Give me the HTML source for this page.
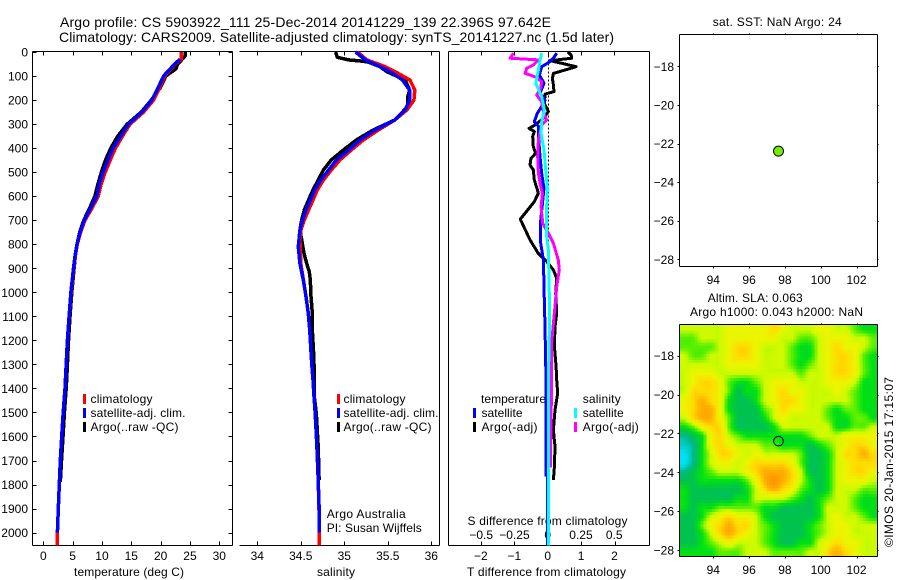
<!DOCTYPE html>
<html>
<head>
<meta charset="utf-8">
<title>Argo profile</title>
<style>
html,body{margin:0;padding:0;background:#fff;}
svg{display:block;}
text{font-family:"Liberation Sans",sans-serif;font-size:12px;fill:#000;}
.ax{stroke:#000;stroke-width:1;fill:none;shape-rendering:crispEdges;}
.ln{fill:none;shape-rendering:crispEdges;stroke-linejoin:round;}
</style>
</head>
<body>
<svg id="fig" width="900" height="580" viewBox="0 0 900 580" xmlns="http://www.w3.org/2000/svg">
<rect width="900" height="580" fill="#fff"/>
<text x="60" y="27" style="font-size:14px" textLength="491">Argo profile: CS 5903922_111 25-Dec-2014 20141229_139 22.396S 97.642E</text>
<text x="59" y="42" style="font-size:14px" textLength="555">Climatology: CARS2009. Satellite-adjusted climatology: synTS_20141227.nc (1.5d later)</text>

<g>
<rect x="83" y="394" width="3" height="10" fill="#f00"/>
<rect x="83" y="408" width="3" height="10" fill="#00f"/>
<rect x="83" y="422" width="3" height="10" fill="#000"/>
<text x="90.5" y="403" textLength="62">climatology</text>
<text x="90.5" y="417" textLength="95">satellite-adj. clim.</text>
<text x="90.5" y="431" textLength="88">Argo(..raw -QC)</text>
</g>
<g>
<rect x="337" y="394" width="3" height="10" fill="#f00"/>
<rect x="337" y="408" width="3" height="10" fill="#00f"/>
<rect x="337" y="422" width="3" height="10" fill="#000"/>
<text x="343.5" y="403" textLength="62">climatology</text>
<text x="343.5" y="417" textLength="95">satellite-adj. clim.</text>
<text x="343.5" y="431" textLength="88">Argo(..raw -QC)</text>
</g>
<g>
<text x="481" y="403" textLength="65">temperature</text>
<text x="582.7" y="403" textLength="38">salinity</text>
<rect x="473" y="408" width="3" height="10" fill="#00f"/>
<rect x="473" y="422" width="3" height="10" fill="#000"/>
<rect x="574" y="408" width="3" height="10" fill="#0ff"/>
<rect x="574" y="422" width="3" height="10" fill="#f0f"/>
<text x="481.5" y="417" textLength="41">satellite</text>
<text x="481.5" y="431" textLength="56">Argo(-adj)</text>
<text x="582.7" y="417" textLength="41">satellite</text>
<text x="582.7" y="431" textLength="56">Argo(-adj)</text>
</g>

<text x="326.7" y="518" textLength="79">Argo Australia</text>
<text x="326.7" y="532" textLength="95">PI: Susan Wijffels</text>
<text x="74" y="576" textLength="110">temperature (deg C)</text>
<text x="317" y="576" textLength="38">salinity</text>
<text x="467.5" y="525" textLength="160">S difference from climatology</text>
<text x="467" y="576" textLength="159">T difference from climatology</text>
<text x="712.7" y="26" textLength="129">sat. SST: NaN Argo: 24</text>
<text x="707.7" y="302" textLength="95">Altim. SLA: 0.063</text>
<text x="690" y="316" textLength="173">Argo h1000: 0.043 h2000: NaN</text>
<text transform="translate(893,547) rotate(-90)" textLength="170">©IMOS 20-Jan-2015 17:15:07</text>
</svg>

<script>
// ---- axis tick labels ----
var depthTicks = [0,100,200,300,400,500,600,700,800,900,1000,1100,1200,1300,1400,1500,1600,1700,1800,1900,2000];
var tempTicks = [0,5,10,15,20,25,30];
var salTicks = [34,34.5,35,35.5,36];
var tDiffTicks = [-2,-1,0,1,2];
var sDiffTicks = [-0.5,-0.25,0,0.25,0.5];
var lonTicks = [94,96,98,100,102];
var latTicks = [-18,-20,-22,-24,-26,-28];

// ---- temperature profile ----
var tempDepths = [0,30,50,100,150,200,250,300,350,400,450,500,550,600,650,700,750,800,850,900,1000,1100,1200,1300,1400,1500,1600,1700,1800,1900,2000,2053];
var tempClim = [23.5,23.5,22.5,20.7,19.8,18.8,17.1,14.8,13.5,12.3,11.4,10.55,9.85,9.35,8.3,7.1,6.35,5.8,5.45,5.2,4.75,4.42,4.12,3.9,3.7,3.4,3.13,2.9,2.73,2.56,2.4,2.4];
var tempSatDepths = [30,50,100,150,200,250,300,350,400,450,500,550,600,650,700,750,800,850,900,1000,1100,1200,1300,1400,1500,1600,1700,1800,1900,2000];
var tempSat = [23.3,22.4,20.5,19.55,18.5,16.8,14.5,13.2,11.9,11.0,10.2,9.55,9.1,8.05,6.95,6.25,5.75,5.4,5.15,4.7,4.4,4.1,3.9,3.7,3.4,3.13,2.9,2.73,2.56,2.4];
var tempArgoDepths = [0,15,30,50,70,100,150,200,250,300,350,400,450,500,550,600,650,700,750,800,850,900,1000,1100,1200,1300,1400,1500,1600,1700,1790];
var tempArgo = [24.2,24.2,23.7,22.9,22.6,20.9,19.9,18.4,16.7,14.3,12.7,11.5,10.6,9.9,9.3,8.8,7.9,6.9,6.2,5.75,5.45,5.25,4.85,4.55,4.3,4.1,3.9,3.6,3.35,3.1,2.9];

// ---- salinity profile ----
var salDepths = [0,33,61,89,117,158,200,241,283,325,366,408,449,491,533,574,616,657,699,741,782,880,949,1018,1088,1157,1226,1296,1365,1434,1504,1642,1781,1920,2000,2053];
var salClim = [35.15,35.26,35.47,35.62,35.755,35.81,35.80,35.72,35.58,35.39,35.22,35.08,34.95,34.85,34.76,34.69,34.64,34.59,34.54,34.50,34.49,34.50,34.53,34.56,34.586,34.602,34.614,34.625,34.64,34.652,34.665,34.685,34.70,34.71,34.71,34.71];
var salSatDepths = [0,33,61,89,117,158,200,241,283,325,366,408,449,491,533,574,616,657,699,741,810,880,949,1018,1088,1157,1226,1296,1365,1434,1504,1642,1781,1920,2000];
var salSat = [35.13,35.24,35.41,35.56,35.67,35.75,35.75,35.70,35.58,35.35,35.18,35.05,34.91,34.82,34.73,34.66,34.61,34.56,34.52,34.49,34.471,34.49,34.529,34.56,34.586,34.602,34.614,34.625,34.64,34.652,34.665,34.685,34.70,34.713,34.713];
var salArgoDepths = [0,22,33,38,41,61,82,103,117,158,186,227,283,325,366,408,449,491,533,574,616,657,699,741,782,838,880,914,949,1018,1088,1157,1226,1296,1365,1434,1504,1642,1781];
var salArgo = [34.90,34.92,35.05,35.20,35.27,35.41,35.49,35.62,35.70,35.75,35.73,35.73,35.58,35.33,35.14,34.99,34.85,34.76,34.70,34.64,34.59,34.54,34.51,34.49,34.51,34.537,34.568,34.598,34.609,34.617,34.632,34.632,34.644,34.652,34.655,34.655,34.678,34.70,34.71];

// ---- difference profiles ----
var tDiffArgoDepths = [0,12,26,36,47,61,75,89,110,137,165,175,214,248,276,304,318,331,352,394,422,442,470,491,533,567,588,623,696,782,838,872,907,942,1004,1087,1143,1226,1309,1365,1420,1490,1573,1642,1726,1781];
var tDiffArgo = [0.6,0.7,0.72,0.07,0.42,0.85,0.52,0.17,0.14,0.17,0.19,-0.08,-0.1,0.02,-0.13,-0.38,-0.56,-0.4,-0.45,-0.43,-0.36,-0.5,-0.53,-0.43,-0.4,-0.32,-0.28,-0.4,-0.82,-0.53,-0.28,-0.03,0.17,0.27,0.24,0.27,0.22,0.2,0.25,0.27,0.3,0.22,0.17,0.22,0.2,0.17];
var tDiffSatDepths = [5,26,40,61,96,130,172,200,227,255,290,308,338,435,505,567,713,796,865,1046,1143,1365,1767];
var tDiffSat = [0.27,0.17,0.07,-0.18,-0.25,-0.11,-0.23,-0.08,-0.18,-0.31,-0.4,-0.28,-0.28,-0.23,-0.18,-0.11,-0.22,-0.21,-0.13,-0.1,-0.08,-0.05,-0.05];
var tDiffDeepDepths = [1767,2053];
var tDiffDeep = [-0.04,-0.04];
var sDiffArgoDepths = [5,26,33,54,68,89,103,123,151,179,207,248,283,304,366,435,505,567,588,644,713,755,796,865,907,976,1060,1129,1212,1365,1538,1730];
var sDiffArgo = [-0.2575,-0.2825,-0.07,-0.1075,-0.1575,-0.17,-0.095,-0.045,-0.0525,-0.0825,-0.045,-0.0325,-0.0075,-0.045,-0.07,-0.075,-0.07,-0.05,-0.04,-0.05,-0.0375,0.005,0.0425,0.08,0.0875,0.0675,0.055,0.0425,0.03,0.03,0.025,0.02];
var sDiffSatDepths = [5,33,75,130,186,241,290,338,408,505,567,671,768,824,949,1087,1365,2053];
var sDiffSat = [-0.045,-0.0575,-0.07,-0.09,-0.045,-0.025,-0.045,-0.05,-0.0275,-0.0125,-0.0025,-0.01,-0.0075,0.005,0.01,0.015,0.005,0.005];

// ---- float position and altimetry map ----
var floatLon = [97.642];
var floatLat = [-22.396];
var slaLevels = [
[5,5,5,5,5,6,6,6,6,6,7,6,5,5,5,6,6,5,5,4,3,3],
[4,4,5,5,5,6,6,6,6,6,6,5,5,4,4,5,6,6,6,5,5,4],
[4,4,4,4,5,6,7,7,6,5,5,5,4,3,3,5,6,7,6,6,5,4],
[5,4,4,5,5,6,7,7,6,5,5,5,4,3,3,5,6,7,7,6,4,3],
[5,5,5,5,5,6,6,6,6,5,5,5,4,3,4,5,6,7,7,6,4,3],
[5,6,6,6,5,5,5,5,5,5,5,5,5,4,5,5,6,7,7,6,4,3],
[5,6,7,7,6,4,3,3,4,5,6,6,6,5,5,5,6,6,6,5,3,3],
[5,7,7,7,6,4,2,3,3,5,6,7,6,6,5,5,5,6,5,4,3,3],
[6,7,8,7,6,3,2,2,3,5,6,7,7,6,5,5,5,5,5,4,3,3],
[6,7,8,8,6,3,2,2,2,4,5,7,6,6,5,5,4,3,4,4,3,3],
[5,7,8,8,6,4,2,2,2,3,5,6,5,5,5,5,4,3,3,4,4,3],
[3,4,6,7,7,4,2,2,2,2,3,5,5,5,5,5,5,3,3,4,4,5],
[1,2,3,6,7,5,4,3,3,3,3,3,3,3,4,5,5,5,6,6,6,6],
[0.5,1,3,6,7,6,5,5,5,4,4,3,3,3,2,3,4,5,6,7,7,6],
[0,1,3,5,7,7,6,5,6,5,5,5,5,4,2,2,3,5,7,7,8,7],
[0,1,3,5,6,6,5,6,7,7,7,7,6,4,2,2,3,5,6,7,7,7],
[1,2,3,4,5,5,5,6,7,8,8,8,7,5,2,2,3,5,6,7,7,6],
[2,2,3,3,3,3,3,4,6,8,9,8,7,5,3,2,3,5,6,6,6,5],
[3,2,2,2,2,2,2,3,5,7,8,7,6,4,3,2,3,5,5,5,4,4],
[3,2,2,2,2,2,3,3,5,5,5,5,4,3,2,3,4,5,5,4,3,3],
[3,2,3,3,4,4,4,4,4,3,3,2,2,2,2,3,5,5,5,4,3,3],
[2,2,3,5,6,7,6,6,5,3,2,2,2,2,2,3,5,6,5,5,4,3],
[2,2,4,6,7,8,7,7,5,4,3,2,2,2,3,4,5,6,6,5,5,5],
[2,2,3,5,7,8,7,6,5,4,3,2,2,2,3,4,5,6,6,5,5,5],
[2,2,3,4,5,6,5,5,5,4,3,2,2,3,3,5,6,7,6,6,5,5],
[3,3,3,3,4,4,4,5,5,5,4,4,4,4,5,5,7,8,7,6,5,5]
];

var SVGNS = 'http://www.w3.org/2000/svg';
var fig = document.getElementById('fig');

// ---- axis functions ----
function yDepth(d){ return 52 + d * 0.2403; }
function xTemp(t){ return 43.3 + t * 5.867; }
function xSal(s){ return 257.3 + (s - 34) * 87; }
function xTDiff(t){ return 547.7 + t * 33.4; }
function xSDiff(s){ return 547.7 + s * 133; }
function xLon(lon){ return 713.3 + (lon - 94) * 17.9; }
function yLatSst(lat){ return 66.3 + (-18 - lat) * 19.3; }
function yLatSla(lat){ return 355.7 + (-18 - lat) * 19.43; }

function el(tag, attrs, parent){
  var e = document.createElementNS(SVGNS, tag);
  for (var k in attrs) e.setAttribute(k, attrs[k]);
  (parent || fig).appendChild(e);
  return e;
}
function fmtMinus(v){ return String(v).replace('-', '\u2212'); }

function drawSeg(x1, y1, x2, y2, name){
  var s = el('line', {x1: x1, y1: y1, x2: x2, y2: y2, 'class': 'ax'});
  
  
  return s;
}
function drawLabel(x, y, str, anchor, name){
  var t = el('text', {x: x, y: y, 'text-anchor': anchor});
  t.textContent = str;
  
  
  return t;
}
function drawProfile(depths, values, xFn, color, width, name){
  var pts = [];
  for (var i = 0; i < values.length; i++) {
    pts.push(xFn(values[i]).toFixed(1) + ',' + yDepth(depths[i]).toFixed(1));
  }
  var p = el('polyline', {points: pts.join(' '), 'class': 'ln', stroke: color, 'stroke-width': width});
  
  
  return p;
}

// ---- panel frames ----
var P1 = {l: 32.5, r: 232.5, t: 51.5, b: 545.5};
var P2 = {l: 239.5, r: 439.5, t: 51.5, b: 545.5};
var P3 = {l: 448.5, r: 649.5, t: 51.5, b: 545.5};

drawSeg(P1.l, P1.t, P1.r, P1.t, 'temperature-panel-top-axis');
drawSeg(P1.l, P1.b, P1.r, P1.b, 'temperature-panel-bottom-axis');
drawSeg(P1.l, P1.t, P1.l, P1.b, 'temperature-panel-left-axis');
drawSeg(P1.r, P1.t, P1.r, P1.b, 'temperature-panel-right-axis');
drawSeg(P2.l, P2.t, P2.r, P2.t, 'salinity-panel-top-axis');
drawSeg(P2.l, P2.b, P2.r, P2.b, 'salinity-panel-bottom-axis');
drawSeg(P2.r, P2.t, P2.r, P2.b, 'salinity-panel-right-axis');
drawSeg(P3.l, P3.t, P3.r, P3.t, 'difference-panel-top-axis');
drawSeg(P3.l, P3.b, P3.r, P3.b, 'difference-panel-bottom-axis');
drawSeg(P3.l, P3.t, P3.l, P3.b, 'difference-panel-left-axis');
drawSeg(P3.r, P3.t, P3.r, P3.b, 'difference-panel-right-axis');

depthTicks.forEach(function(d){
  var y = Math.round(yDepth(d)) + 0.5;
  drawSeg(P1.l, y, P1.l + 4, y, 'depth-tick-left');
  drawSeg(P1.r - 4, y, P1.r, y, 'depth-tick-right');
  drawLabel(28, yDepth(d) + 4.5, String(d), 'end', 'depth-tick-label');
});
tempTicks.forEach(function(t){
  var x = Math.round(xTemp(t)) + 0.5;
  drawSeg(x, P1.t, x, P1.t + 4, 'temperature-tick-top');
  drawSeg(x, P1.b - 4, x, P1.b, 'temperature-tick-bottom');
  drawLabel(xTemp(t), 560, String(t), 'middle', 'temperature-tick-label');
});
salTicks.forEach(function(s){
  var x = Math.round(xSal(s)) + 0.5;
  drawSeg(x, P2.t, x, P2.t + 4, 'salinity-tick-top');
  drawSeg(x, P2.b - 4, x, P2.b, 'salinity-tick-bottom');
  drawLabel(xSal(s), 560, String(s), 'middle', 'salinity-tick-label');
});
tDiffTicks.forEach(function(t){
  var x = Math.round(xTDiff(t)) + 0.5;
  drawSeg(x, P3.b - 4, x, P3.b, 't-difference-tick');
  drawLabel(xTDiff(t), 560, fmtMinus(t), 'middle', 't-difference-tick-label');
});
sDiffTicks.forEach(function(s){
  var x = Math.round(xSDiff(s)) + 0.5;
  drawSeg(x, P3.t, x, P3.t + 4, 's-difference-tick');
  drawLabel(xSDiff(s), 539, fmtMinus(s), 'middle', 's-difference-tick-label');
});

// ---- zero reference line ----
var zeroLine = el('line', {x1: 548.5, y1: P3.t, x2: 548.5, y2: P3.b, stroke: '#000', 'stroke-width': 1, 'stroke-dasharray': '2 2', 'shape-rendering': 'crispEdges'});



// ---- series ----
drawProfile(tempArgoDepths, tempArgo, xTemp, '#000', 3.5, 'temperature-argo-line');
drawProfile(tempDepths, tempClim, xTemp, '#f00', 3.5, 'temperature-climatology-line');
drawProfile(tempSatDepths, tempSat, xTemp, '#00f', 3.5, 'temperature-satellite-line');

drawProfile(salArgoDepths, salArgo, xSal, '#000', 3.5, 'salinity-argo-line');
drawProfile(salDepths, salClim, xSal, '#f00', 3.5, 'salinity-climatology-line');
drawProfile(salSatDepths, salSat, xSal, '#00f', 3.5, 'salinity-satellite-line');

drawProfile(tDiffArgoDepths, tDiffArgo, xTDiff, '#000', 3, 't-difference-argo-line');
drawProfile(tDiffSatDepths, tDiffSat, xTDiff, '#00f', 3, 't-difference-satellite-line');
drawProfile(sDiffArgoDepths, sDiffArgo, xSDiff, '#f0f', 3, 's-difference-argo-line');
drawProfile(sDiffSatDepths, sDiffSat, xSDiff, '#0ff', 3, 's-difference-satellite-line');
drawProfile(tDiffDeepDepths, tDiffDeep, xTDiff, '#00f', 1, 't-difference-satellite-deep-line');

// ---- maps ----
var M = {l: 679.5, r: 877.5};
function levelColor(v){
  var stops = [
    [0, 0, 225, 245], [1, 0, 185, 140], [2, 0, 195, 75], [3, 0, 225, 20],
    [4, 90, 240, 0], [5, 205, 250, 0], [6, 235, 245, 0], [7, 255, 220, 0],
    [8, 255, 175, 0], [9, 255, 150, 0]
  ];
  var i = Math.max(0, Math.min(8, Math.floor(v)));
  var f = Math.max(0, Math.min(1, v - i));
  var a = stops[i], b = stops[i + 1];
  return 'rgb(' + Math.round(a[1] + (b[1] - a[1]) * f) + ',' + Math.round(a[2] + (b[2] - a[2]) * f) + ',' + Math.round(a[3] + (b[3] - a[3]) * f) + ')';
}
function catmull(p0, p1, p2, p3, t){
  return 0.5 * (2 * p1 + (p2 - p0) * t + (2 * p0 - 5 * p1 + 4 * p2 - p3) * t * t + (3 * p1 - p0 - 3 * p2 + p3) * t * t * t);
}
function slaAt(u, v){
  var rows = slaLevels.length, cols = slaLevels[0].length;
  var iu = Math.floor(u), iv = Math.floor(v), fu = u - iu, fv = v - iv, col = [];
  for (var m = -1; m <= 2; m++) {
    var r = slaLevels[Math.max(0, Math.min(rows - 1, iv + m))];
    function cv(k){ return r[Math.max(0, Math.min(cols - 1, iu + k))]; }
    col.push(catmull(cv(-1), cv(0), cv(1), cv(2), fu));
  }
  return catmull(col[0], col[1], col[2], col[3], fv);
}
function drawHeatmap(top, bottom){
  var g = el('g', {'shape-rendering': 'crispEdges'});
  
  
  var rows = slaLevels.length, cols = slaLevels[0].length, sub = 3;
  var cw = (M.r - M.l) / (cols * sub), ch = (bottom - top) / (rows * sub);
  for (var j = 0; j < rows * sub; j++) {
    for (var i = 0; i < cols * sub; i++) {
      var val = slaAt((i + 0.5) / sub - 0.5, (j + 0.5) / sub - 0.5);
      var c = el('rect', {x: (M.l + i * cw).toFixed(2), y: (top + j * ch).toFixed(2), width: (cw + 0.6).toFixed(2), height: (ch + 0.6).toFixed(2), fill: levelColor(val)}, g);
      
      
    }
  }
}
drawHeatmap(324.5, 556.5);

function drawMapFrame(top, bottom, latFn, lonY, prefix){
  drawSeg(M.l, top, M.r, top, prefix + '-top-axis');
  drawSeg(M.l, bottom, M.r, bottom, prefix + '-bottom-axis');
  drawSeg(M.l, top, M.l, bottom, prefix + '-left-axis');
  drawSeg(M.r, top, M.r, bottom, prefix + '-right-axis');
  lonTicks.forEach(function(lon){
    var x = Math.round(xLon(lon)) + 0.5;
    drawSeg(x, top - 1, x, top, prefix + '-lon-tick-top');
    drawSeg(x, bottom, x, bottom + 2, prefix + '-lon-tick-bottom');
    drawLabel(xLon(lon), lonY, String(lon), 'middle', prefix + '-lon-tick-label');
  });
  latTicks.forEach(function(lat){
    var y = Math.round(latFn(lat)) + 0.5;
    drawSeg(M.l - 2, y, M.l, y, prefix + '-lat-tick-left');
    drawSeg(M.r, y, M.r + 1, y, prefix + '-lat-tick-right');
    drawLabel(674, latFn(lat) + 4.5, fmtMinus(lat), 'end', prefix + '-lat-tick-label');
  });
}
drawMapFrame(34.5, 266.5, yLatSst, 284, 'sst-map');
drawMapFrame(324.5, 556.5, yLatSla, 574, 'sla-map');

var sstMarker = el('circle', {cx: xLon(floatLon[0]), cy: yLatSst(floatLat[0]), r: 5, fill: '#70f000', stroke: '#000', 'stroke-width': 1});


var slaMarker = el('circle', {cx: xLon(floatLon[0]), cy: yLatSla(floatLat[0]), r: 4.8, fill: 'none', stroke: '#000', 'stroke-width': 1});


</script>
</body>
</html>
